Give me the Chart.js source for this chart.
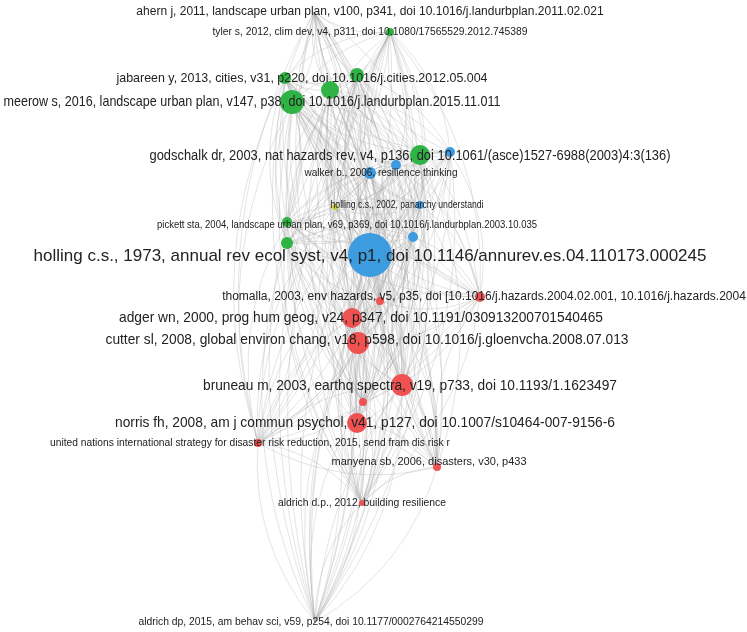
<!DOCTYPE html>
<html>
<head>
<meta charset="utf-8">
<script src="https://cdn.jsdelivr.net/npm/chart.js@4"></script>
<style>
  body { margin: 0; background: #fff; }
  canvas { display: block; }
</style>
</head>
<body>
<canvas id="net" width="747" height="632"></canvas>
<script>
// Node layout (map units = pixels of the original picture)
const nodeX = [314, 390, 285, 357, 292, 330, 420, 450, 370, 396, 335, 420, 287, 287, 370, 413, 380, 480, 352, 358, 402, 363, 357, 258, 437, 362, 315];
const nodeY = [12, 32, 78, 75, 102, 90, 155, 152, 173, 165, 207, 205, 222, 243, 255, 237, 301, 297, 318, 343, 385, 402, 423, 443, 467, 503, 622];
const nodeR = [5, 4, 6, 7, 12, 9, 10, 5, 6, 5, 3, 4, 5, 6, 22, 5, 4, 5, 10, 11, 11, 4, 10, 4, 4, 3, 4];
const nodeCluster = ["g", "g", "g", "g", "g", "g", "g", "b", "b", "b", "y", "b", "g", "g", "b", "b", "r", "r", "r", "r", "r", "r", "r", "r", "r", "r", "r"];

const labelText = [
  "ahern j, 2011, landscape urban plan, v100, p341, doi 10.1016/j.landurbplan.2011.02.021",
  "tyler s, 2012, clim dev, v4, p311, doi 10.1080/17565529.2012.745389",
  "jabareen y, 2013, cities, v31, p220, doi 10.1016/j.cities.2012.05.004",
  "meerow s, 2016, landscape urban plan, v147, p38, doi 10.1016/j.landurbplan.2015.11.011",
  "godschalk dr, 2003, nat hazards rev, v4, p136, doi 10.1061/(asce)1527-6988(2003)4:3(136)",
  "walker b., 2006, resilience thinking",
  "holling c.s., 2002, panarchy understandi",
  "pickett sta, 2004, landscape urban plan, v69, p369, doi 10.1016/j.landurbplan.2003.10.035",
  "holling c.s., 1973, annual rev ecol syst, v4, p1, doi 10.1146/annurev.es.04.110173.000245",
  "thomalla, 2003, env hazards, v5, p35, doi [10.1016/j.hazards.2004.02.001, 10.1016/j.hazards.2004",
  "adger wn, 2000, prog hum geog, v24, p347, doi 10.1191/030913200701540465",
  "cutter sl, 2008, global environ chang, v18, p598, doi 10.1016/j.gloenvcha.2008.07.013",
  "bruneau m, 2003, earthq spectra, v19, p733, doi 10.1193/1.1623497",
  "norris fh, 2008, am j commun psychol, v41, p127, doi 10.1007/s10464-007-9156-6",
  "united nations international strategy for disaster risk reduction, 2015, send fram dis risk r",
  "manyena sb, 2006, disasters, v30, p433",
  "aldrich d.p., 2012, building resilience",
  "aldrich dp, 2015, am behav sci, v59, p254, doi 10.1177/0002764214550299"
];
const labelX = [370, 370, 302, 252, 410, 381, 407, 347, 370, 484, 361, 367, 410, 365, 250, 429, 362, 311];
const labelY = [12, 32, 78, 102, 156, 173, 205, 225, 256, 297, 318, 340, 386, 423, 443, 462, 503, 622];
const labelWidth = [480, 315, 371, 497, 521, 153, 153, 380, 700, 524, 484, 523, 414, 500, 400, 214, 168, 345];
const labelSize = [12, 11, 13, 15, 14, 11, 11, 11, 17, 12, 15, 15, 15, 15, 11, 11, 11, 11];

const COLORS = { g: "#2fb344", b: "#3d9be0", r: "#f05252", y: "#cccc33" };

const points = nodeX.map((x, i) => ({ x: x, y: nodeY[i], r: nodeR[i] }));

// curved grey links between every pair of nodes
const linksPlugin = {
  id: "links",
  beforeDatasetsDraw(chart) {
    const { ctx, scales } = chart;
    ctx.save();
    ctx.strokeStyle = "rgba(165,165,165,0.3)";
    ctx.lineWidth = 1;
    for (let i = 0; i < nodeX.length; i++) {
      for (let j = i + 1; j < nodeX.length; j++) {
        const x1 = scales.x.getPixelForValue(nodeX[i]), y1 = scales.y.getPixelForValue(nodeY[i]);
        const x2 = scales.x.getPixelForValue(nodeX[j]), y2 = scales.y.getPixelForValue(nodeY[j]);
        const mx = (x1 + x2) / 2, my = (y1 + y2) / 2;
        const dx = x2 - x1, dy = y2 - y1;
        const k = ((i + j) % 2 ? 0.2 : -0.2);
        ctx.beginPath();
        ctx.moveTo(x1, y1);
        ctx.quadraticCurveTo(mx - dy * k, my + dx * k, x2, y2);
        ctx.stroke();
      }
    }
    ctx.restore();
  }
};

// labels in a condensed sans, squeezed to the width seen in the picture
const labelsPlugin = {
  id: "labels",
  afterDatasetsDraw(chart) {
    const { ctx, scales } = chart;
    ctx.save();
    ctx.textAlign = "center";
    ctx.textBaseline = "middle";
    ctx.fillStyle = "#222";
    labelText.forEach((t, i) => {
      ctx.font = labelSize[i] + "px Arial, 'Liberation Sans', sans-serif";
      const w = ctx.measureText(t).width;
      const sx = Math.min(1, labelWidth[i] / w);
      ctx.save();
      ctx.translate(scales.x.getPixelForValue(labelX[i]), scales.y.getPixelForValue(labelY[i]));
      ctx.scale(sx, 1);
      ctx.fillText(t, 0, 0);
      ctx.restore();
    });
    ctx.restore();
  }
};

new Chart(document.getElementById("net").getContext("2d"), {
  type: "bubble",
  data: {
    datasets: [{
      data: points,
      backgroundColor: nodeCluster.map(c => COLORS[c]),
      borderWidth: 0
    }]
  },
  options: {
    responsive: false,
    animation: false,
    layout: { padding: 0 },
    scales: {
      x: { type: "linear", display: false,
           afterFit(s) {}, min: 0, max: 747 },
      y: { type: "linear", min: 0, max: 632, reverse: true, display: false }
    },
    plugins: { legend: { display: false }, tooltip: { enabled: false } }
  },
  plugins: [linksPlugin, labelsPlugin, {
    // map data units 1:1 onto canvas pixels whatever padding the bubbles ask for
    id: "fullArea",
    afterLayout(chart) {
      const a = chart.chartArea;
      const pad = { x: [a.left, chart.width - a.right], y: [a.top, chart.height - a.bottom] };
      const sx = chart.scales.x, sy = chart.scales.y;
      if (Math.abs(sx.min - pad.x[0]) > 0.5 || Math.abs(sy.min - pad.y[0]) > 0.5) {
        chart.options.scales.x.min = pad.x[0];
        chart.options.scales.x.max = chart.width - pad.x[1];
        chart.options.scales.y.min = pad.y[0];
        chart.options.scales.y.max = chart.height - pad.y[1];
        chart.update();
      }
    }
  }]
});
</script>
</body>
</html>
